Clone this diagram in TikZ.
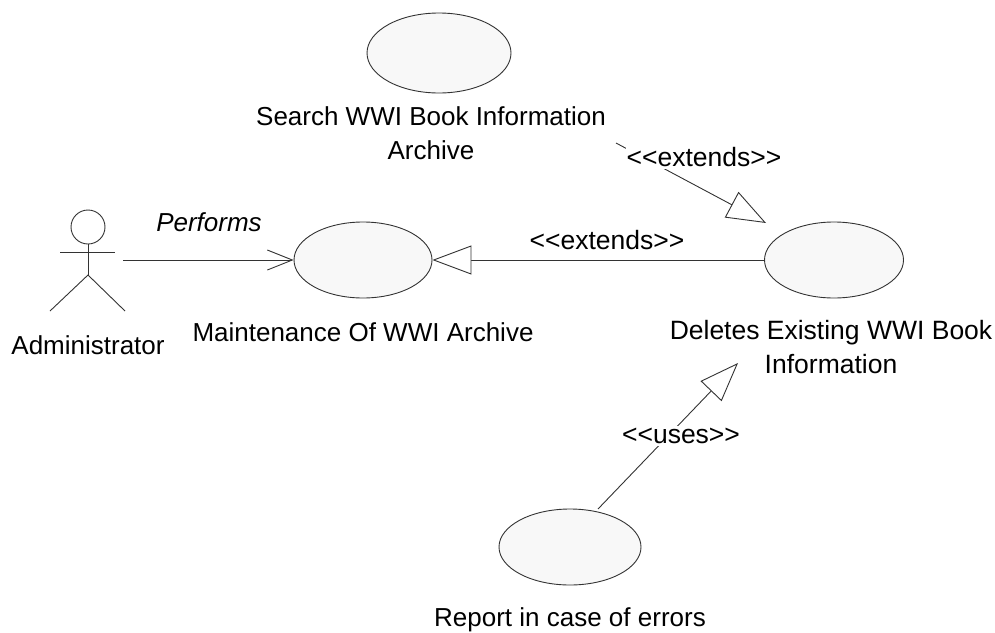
\documentclass[tikz,border=0pt]{standalone}
\usepackage{fontspec}
\setmainfont{Liberation Sans}
\usetikzlibrary{arrows.meta,shapes.geometric}
\definecolor{linegray}{HTML}{333333}
\definecolor{casefill}{HTML}{F8F8F8}
\tikzset{
  usecase/.style={draw=linegray,fill=casefill,ellipse,line width=0.9pt,inner sep=0pt},
  label text/.style={font=\fontsize{26}{34.5}\selectfont,inner sep=1pt,align=center,text=black},
  tag text/.style={font=\fontsize{26.5}{34}\selectfont,inner xsep=1pt,inner ysep=2.5pt,align=center,text=black,fill=white},
  conn/.style={draw=linegray,line width=0.9pt},
  generalize/.style={conn,-{Triangle[open,fill=white,length=39pt,width=29pt,line width=0.9pt]}},
  association/.style={conn,-{Straight Barb[length=25pt,width=20pt,line width=0.9pt]}},
}
\begin{document}
\begin{tikzpicture}[x=1pt,y=-1pt]
\useasboundingbox (0,0) rectangle (995,632);
% use cases
\node[usecase,minimum width=144pt,minimum height=80pt] (search) at (439,53) {};
\node[usecase,minimum width=138pt,minimum height=76pt] (maint) at (363,260) {};
\node[usecase,minimum width=139pt,minimum height=76pt] (deletes) at (834,260) {};
\node[usecase,minimum width=142pt,minimum height=76pt] (report) at (570,547) {};
% actor
\node[draw=linegray,circle,line width=0.9pt,minimum size=34pt,inner sep=0pt] (head) at (88,227) {};
\coordinate (hip) at (88,275);
\draw[conn] (head.south) -- (hip);
\coordinate (armL) at (60,252);
\coordinate (armR) at (115,252);
\draw[conn] (armL) -- (armR);
\coordinate (footL) at (50,311);
\coordinate (footR) at (125,311);
\draw[conn] (footL) -- (hip) -- (footR);
% connector ends
\coordinate (actorhand) at (123,260);
\coordinate (searchend) at (616,143);
\coordinate (deletesN) at (766,223);
\coordinate (reportN) at (598,509);
\coordinate (deletesS) at (738,363);
% connectors
\draw[association] (actorhand) -- (maint.west);
\draw[generalize] (deletes.west) -- (maint.east);
\draw[generalize] (searchend) -- (deletesN);
\draw[generalize] (reportN) -- (deletesS);
% connector labels
\node[label text] (performs) at (209,222) {\itshape Performs};
\node[tag text] (ext1) at (704,157) {{<}{<}extends{>}{>}};
\node[tag text,fill=none] (ext2) at (607,240) {{<}{<}extends{>}{>}};
\node[tag text] (uses) at (681,436) {{<}{<}uses{>}{>}};
% use case labels
\node[label text] (searchlabel) at (431,133) {Search WWI Book Information\\Archive};
\node[label text] (adminlabel) at (88,345) {Administrator};
\node[label text] (maintlabel) at (363,332) {Maintenance Of WWI Archive};
\node[label text,font=\fontsize{26.5}{34.5}\selectfont] (deleteslabel) at (831,347) {Deletes Existing WWI Book\\Information};
\node[label text] (reportlabel) at (570,620) {Report in case of errors};
\end{tikzpicture}
\end{document}
